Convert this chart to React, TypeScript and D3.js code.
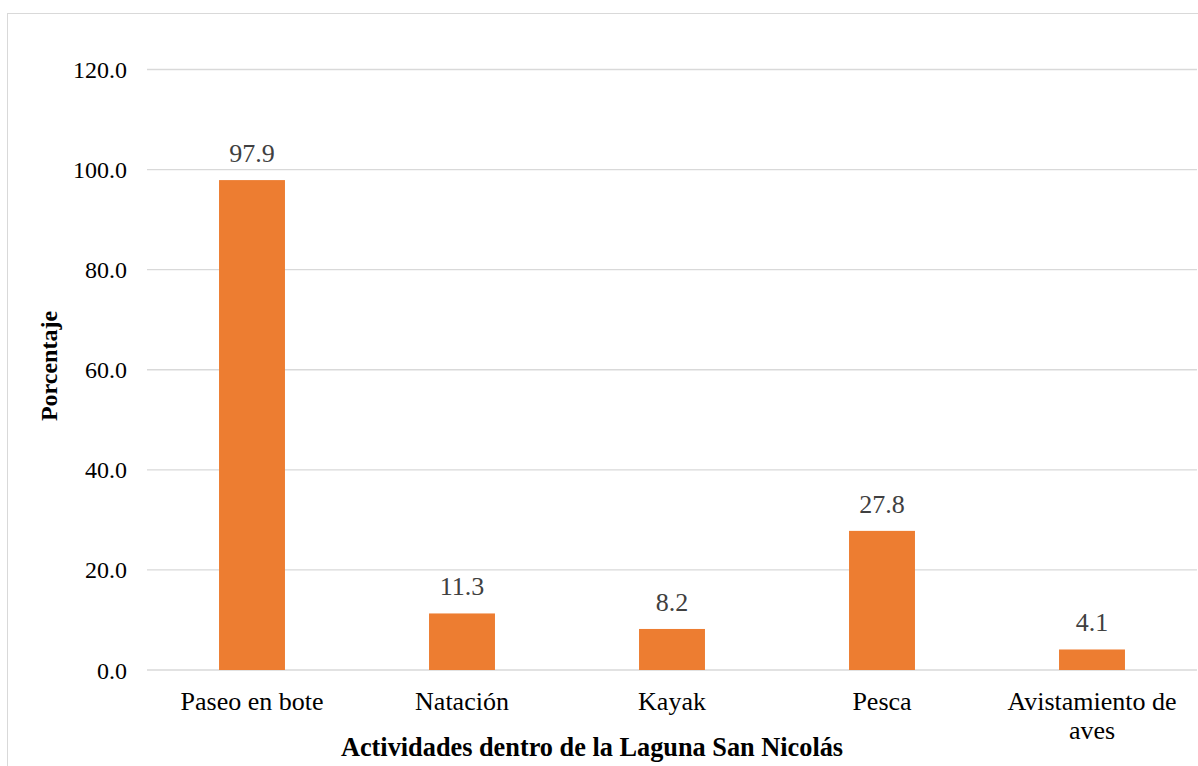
import React from "react";
import * as d3 from "d3";

const categories: string[][] = [
  ["Paseo en bote"],
  ["Natación"],
  ["Kayak"],
  ["Pesca"],
  ["Avistamiento de", "aves"],
];
const values: number[] = [97.9, 11.3, 8.2, 27.8, 4.1];
const yTicks: number[] = [0, 20, 40, 60, 80, 100, 120];
const xTitle = "Actividades dentro de la Laguna San Nicolás";
const yTitle = "Porcentaje";

export default function App() {
  const W = 1198, H = 766;
  const left = 147, right = 1197, top = 69.5, bottom = 670;
  const x = d3.scaleBand<number>().domain(values.map((_, i) => i)).range([left, right]).paddingInner(0.686).paddingOuter(0.343);
  const y = d3.scaleLinear().domain([0, 120]).range([bottom, top]);
  const font = { fontFamily: "'Liberation Serif', 'Times New Roman', serif" };
  return (
    <svg width={W} height={H} style={{ position: "absolute", left: 0, top: 0, background: "#fff" }}>
      <rect x={7.5} y={13.5} width={1300} height={800} fill="#fff" stroke="#d9d9d9" strokeWidth={1} />
      {yTicks.map((t) => (
        <g key={t}>
          <line x1={left} x2={right} y1={y(t)} y2={y(t)} stroke="#d9d9d9" strokeWidth={1.3} />
          <text x={127} y={y(t) + 8.5} textAnchor="end" style={font} fontSize={24} fill="#000">
            {t.toFixed(1)}
          </text>
        </g>
      ))}
      {values.map((v, i) => (
        <g key={i}>
          <rect x={x(i)} y={y(v)} width={x.bandwidth()} height={y(0) - y(v)} fill="#ED7D31" />
          <text x={(x(i) as number) + x.bandwidth() / 2} y={y(v) - 18} textAnchor="middle" style={font} fontSize={26} fill="#404040">
            {v.toFixed(1)}
          </text>
          {categories[i].map((line, j) => (
            <text key={j} x={(x(i) as number) + x.bandwidth() / 2} y={710 + j * 29} textAnchor="middle" style={font} fontSize={26} fill="#000">
              {line}
            </text>
          ))}
        </g>
      ))}
      <text x={592} y={756} textAnchor="middle" style={font} fontSize={26.3} fontWeight="bold" fill="#000">
        {xTitle}
      </text>
      <text transform={`translate(57,366) rotate(-90)`} textAnchor="middle" style={font} fontSize={24} fontWeight="bold" fill="#000">
        {yTitle}
      </text>
    </svg>
  );
}
